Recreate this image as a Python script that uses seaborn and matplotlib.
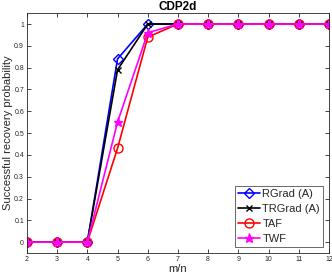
import matplotlib
matplotlib.use("Agg")
import matplotlib.pyplot as plt
import seaborn as sns
import pandas as pd

ratios = [2, 3, 4, 5, 6, 7, 8, 9, 10, 11, 12]
rgrad = [0, 0, 0, 0.84, 1, 1, 1, 1, 1, 1, 1]
trgrad = [0, 0, 0, 0.79, 1, 1, 1, 1, 1, 1, 1]
taf = [0, 0, 0, 0.43, 0.94, 1, 1, 1, 1, 1, 1]
twf = [0, 0, 0, 0.55, 0.96, 1, 1, 1, 1, 1, 1]
names = ["RGrad (A)", "TRGrad (A)", "TAF", "TWF"]
yticks = [0, 0.1, 0.2, 0.3, 0.4, 0.5, 0.6, 0.7, 0.8, 0.9, 1]
ytick_labels = ["0", "0.1", "0.2", "0.3", "0.4", "0.5", "0.6", "0.7", "0.8", "0.9", "1"]

series = dict(zip(names, [rgrad, trgrad, taf, twf]))

sns.set_style("white")
plt.rcParams["font.family"] = ["Liberation Sans", "DejaVu Sans"]
axcol = "#262626"

fig = plt.figure(figsize=(3.32, 2.79), dpi=100)
ax = fig.add_axes([0.081, 0.093, 0.910, 0.860])

palette = {"RGrad (A)": "#0000ff", "TRGrad (A)": "#000000", "TAF": "#ff0000", "TWF": "#ff00ff"}
markers = {"RGrad (A)": "D", "TRGrad (A)": "x", "TAF": "o", "TWF": "*"}
msize = {"D": 5, "x": 5, "o": 6.5, "*": 6.5}

handles = []
for name in names:
    df = pd.DataFrame({"m/n": ratios, "prob": series[name]})
    n_before = len(ax.lines)
    sns.lineplot(data=df, x="m/n", y="prob", color=palette[name], ax=ax,
                 errorbar=None, estimator=None, linewidth=1.2)
    ln = ax.lines[n_before]
    mk = markers[name]
    c = palette[name]
    ln.set_linestyle("-")
    ln.set_marker(mk)
    ln.set_markersize(msize[mk])
    ln.set_markeredgewidth(1.0)
    ln.set_markeredgecolor(c)
    ln.set_markerfacecolor("none" if mk in ("D", "o") else c)
    ln.set_label(name)
    handles.append(ln)

ax.set_xlim(2, 12)
ax.set_ylim(-0.05, 1.05)
ax.set_xticks(ratios)
ax.set_xticklabels([str(r) for r in ratios])
ax.set_yticks(yticks)
ax.set_yticklabels(ytick_labels)
ax.tick_params(direction="in", length=3, width=0.6, labelsize=5, colors=axcol,
               top=True, right=True, bottom=True, left=True, pad=2)
for s in ax.spines.values():
    s.set_visible(True)
    s.set_color(axcol)
    s.set_linewidth(0.6)

ax.set_xlabel("m/n", fontsize=8, color=axcol, labelpad=1)
ax.set_ylabel("Successful recovery probability", fontsize=8, color=axcol, labelpad=1)
ax.set_title("CDP2d", fontsize=8.5, fontweight="bold", color="#000000", pad=2)

leg = ax.legend(handles=handles, labels=names, loc="lower right", fontsize=8,
                frameon=True, fancybox=False, borderpad=0.3, labelspacing=0.45,
                handlelength=2.0, handletextpad=0.2, borderaxespad=0.5)
leg.get_frame().set_edgecolor(axcol)
leg.get_frame().set_linewidth(0.6)

fig.savefig("out.png", dpi=100)
